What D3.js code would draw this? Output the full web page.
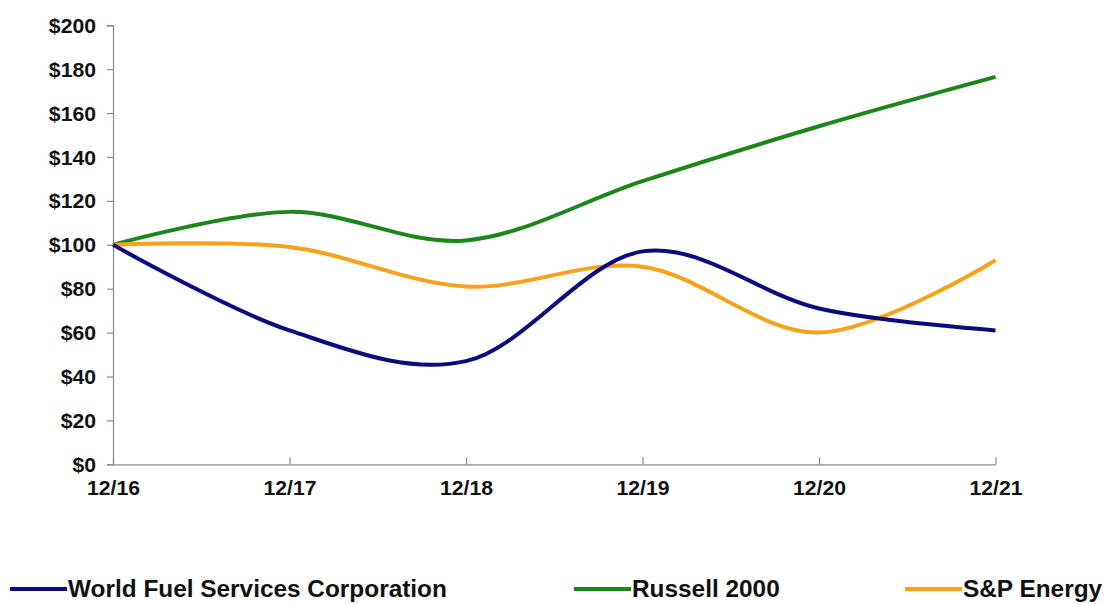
<!DOCTYPE html>
<html>
<head>
<meta charset="utf-8">
<script src="https://cdn.jsdelivr.net/npm/d3@7"></script>
<style>
  body { margin: 0; background: #fff; }
  svg text { font-family: "Liberation Sans", Arial, sans-serif; font-weight: bold; fill: #111; }
</style>
</head>
<body>
<svg id="chart"></svg>
<script>
const [width, height] = [1108, 604];
const margin = {top: 25.3, right: 112.5, bottom: 139.7, left: 113};

const periods = ['12/16', '12/17', '12/18', '12/19', '12/20', '12/21'];
const yTicks = [0, 20, 40, 60, 80, 100, 120, 140, 160, 180, 200];
const worldFuel = [100, 61, 47, 97, 71, 61];
const russell = [100, 115, 102, 129, 154, 176.5];
const spEnergy = [100, 99, 81, 90, 60, 93];
const seriesNames = ['World Fuel Services Corporation', 'Russell 2000', 'S&P Energy'];
const seriesColors = ['#0b0b80', '#1b871b', '#f9a11b'];

const svg = d3.select('#chart')
  .attr('width', width)
  .attr('height', height);

// the source font is a little wider than Liberation Sans
const stretch = sel => sel.each(function() {
  const w = this.getComputedTextLength();
  d3.select(this).attr('textLength', w * 1.06).attr('lengthAdjust', 'spacingAndGlyphs');
});

const x = d3.scalePoint()
  .domain(periods)
  .range([margin.left, width - margin.right]);
const y = d3.scaleLinear()
  .domain([0, 200])
  .range([height - margin.bottom, margin.top]);

// y axis
const yAxis = svg.append('g')
  .attr('transform', `translate(${margin.left},0)`)
  .call(d3.axisLeft(y).tickValues(yTicks).tickSize(6).tickPadding(11).tickFormat(d => '$' + d));
yAxis.select('.domain').attr('stroke', '#8a8a8a').attr('stroke-width', 1.2);
yAxis.selectAll('.tick line').attr('stroke', '#8a8a8a').attr('stroke-width', 1.2);
yAxis.selectAll('.tick text').attr('font-size', 20).attr('dy', '0.35em').call(stretch);

// x axis
const xAxis = svg.append('g')
  .attr('transform', `translate(0,${height - margin.bottom})`)
  .call(d3.axisBottom(x).tickSize(-7).tickSizeOuter(0).tickPadding(0));
xAxis.select('.domain').attr('stroke', '#8a8a8a').attr('stroke-width', 1.2);
xAxis.selectAll('.tick line').attr('stroke', '#8a8a8a').attr('stroke-width', 1.2);
xAxis.selectAll('.tick text').attr('font-size', 20).attr('y', 24).attr('dy', '0.35em').call(stretch);

// lines
const series = [worldFuel, russell, spEnergy];
const line = d3.line()
  .x((d, i) => x(periods[i]))
  .y(d => y(d))
  .curve(d3.curveCardinal.tension(0));

// draw order: green, orange, navy on top where crossing
[1, 2, 0].forEach(k => {
  svg.append('path')
    .datum(series[k])
    .attr('fill', 'none')
    .attr('stroke', seriesColors[k])
    .attr('stroke-width', 4)
    .attr('stroke-linejoin', 'round')
    .attr('d', line);
});

// legend (kept a few px up so descenders stay inside the frame)
const legendX = [10, 574, 905];
const legendY = 589;
const legend = svg.append('g');
seriesNames.forEach((name, i) => {
  legend.append('line')
    .attr('x1', legendX[i]).attr('x2', legendX[i] + 57)
    .attr('y1', legendY).attr('y2', legendY)
    .attr('stroke', seriesColors[i])
    .attr('stroke-width', 4);
  legend.append('text')
    .attr('x', legendX[i] + 58)
    .attr('y', legendY)
    .attr('dy', '0.36em')
    .attr('font-size', 23)
    .text(name)
    .call(stretch);
});
</script>
</body>
</html>
